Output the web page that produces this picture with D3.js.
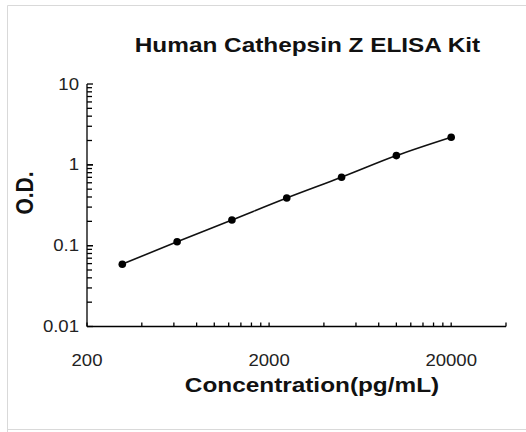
<!DOCTYPE html>
<html><head><meta charset="utf-8">
<script src="https://cdn.jsdelivr.net/npm/d3@7"></script>
<style>body{margin:0;background:#fff}svg{display:block}</style>
</head><body>
<script>
const concentrations = [312.5, 625, 1250, 2500, 5000, 10000, 20000];
const odValues = [0.059, 0.112, 0.208, 0.389, 0.702, 1.30, 2.196];
const xTickLabels = [200, 2000, 20000];
const yTickLabels = [0.01, 0.1, 1, 10];
const title = "Human Cathepsin Z ELISA Kit";
const xTitle = "Concentration(pg/mL)";
const yTitle = "O.D.";

const W = 526, H = 432;
const SX = 1.16; // horizontal stretch of the reference glyphs
const svg = d3.select("body").append("svg").attr("width", W).attr("height", H);
svg.append("path").attr("d", "M7.5,432V5.5H526").attr("fill","none").attr("stroke","#d9d9d9");
svg.append("line").attr("x1",7.5).attr("x2",526).attr("y1",429.5).attr("y2",429.5).attr("stroke","#d9d9d9");

const x = d3.scaleLog().domain([200, 40000]).range([87, 506]);
const y = d3.scaleLog().domain([0.01, 10]).range([326.5, 84]);
const font = "'Liberation Sans', Arial, sans-serif";

// minor ticks
const xMinor = [];
for (let d = 200; d <= 20000; d *= 10) for (let k = 1; k <= 10; k++) { const v = d*k; if (v <= 40000 && !xMinor.includes(v)) xMinor.push(v); }
const yMinor = [];
for (let d = 0.01; d < 10; d *= 10) for (let k = 1; k <= 10; k++) yMinor.push(+(d*k).toPrecision(3));

const g = svg.append("g").attr("stroke","#000").attr("stroke-width",1.3);
g.append("line").attr("x1",87).attr("x2",506).attr("y1",y(0.01)).attr("y2",y(0.01));
g.append("line").attr("x1",87).attr("x2",87).attr("y1",y(10)).attr("y2",y(0.01));
g.selectAll(".xt").data(xMinor).join("line")
  .attr("x1",d=>x(d)).attr("x2",d=>x(d)).attr("y1",y(0.01)).attr("y2",d=> y(0.01)-4);
g.selectAll(".yt").data(yMinor).join("line")
  .attr("x1",87).attr("x2",d=> yTickLabels.includes(d)?93:92).attr("y1",d=>y(d)).attr("y2",d=>y(d));

svg.selectAll(".xl").data(xTickLabels).join("text")
  .attr("transform",d=>`translate(${x(d)},366) scale(${SX},1)`).attr("text-anchor","middle")
  .attr("font-family",font).attr("font-size",16).attr("fill","#222").text(d=>d);
svg.selectAll(".yl").data(yTickLabels).join("text")
  .attr("transform",d=>`translate(79,${y(d)+5.5}) scale(${SX},1)`).attr("text-anchor","end")
  .attr("font-family",font).attr("font-size",16).attr("fill","#222").text(d=>d);

const line = d3.line().x((d,i)=>x(concentrations[i])).y(d=>y(d)).curve(d3.curveMonotoneX);
svg.append("path").datum(odValues).attr("d",line).attr("fill","none").attr("stroke","#111").attr("stroke-width",1.6);
svg.selectAll(".pt").data(odValues).join("circle")
  .attr("cx",(d,i)=>x(concentrations[i])).attr("cy",d=>y(d)).attr("r",3.8).attr("fill","#000");

svg.append("text").attr("transform",`translate(307.5,51.5) scale(${SX},1)`).attr("text-anchor","middle")
  .attr("font-family",font).attr("font-weight","bold").attr("font-size",21).attr("fill","#111").text(title);
svg.append("text").attr("transform",`translate(312,392) scale(${SX},1)`).attr("text-anchor","middle")
  .attr("font-family",font).attr("font-weight","bold").attr("font-size",21).attr("fill","#111").text(xTitle);
svg.append("text").attr("transform",`translate(33,193) scale(${SX},1) rotate(-90)`).attr("text-anchor","middle")
  .attr("font-family",font).attr("font-weight","bold").attr("font-size",21).attr("fill","#111").text(yTitle);
</script>
</body></html>
